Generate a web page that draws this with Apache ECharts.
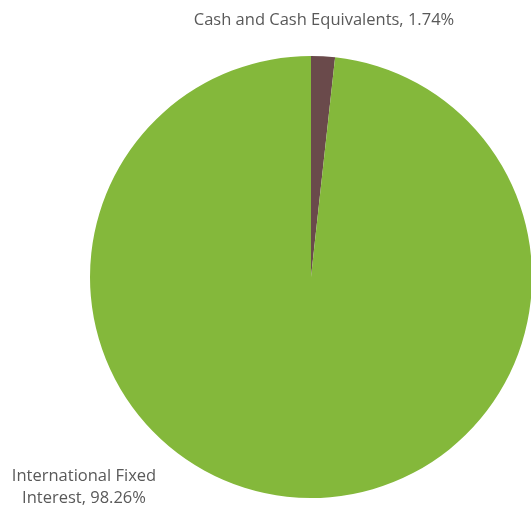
<!DOCTYPE html>
<html><head><meta charset="utf-8">
<script src="https://cdn.jsdelivr.net/npm/echarts@6/dist/echarts.min.js"></script>
<style>html,body{margin:0;padding:0;background:#fff}#c{width:531px;height:509px}</style>
</head><body><div id="c"></div>
<script>
const categories = ["Cash and Cash Equivalents", "International Fixed Interest"];
const labelTexts = ["Cash and Cash Equivalents, 1.74%", "International Fixed\nInterest, 98.26%"];
const values = [1.74, 98.26];
const colors = ["#6a4a4b", "#84b83b"];
const labelSpots = [[324, 20, 'center'], [84, 487, 'center']];

const chart = echarts.init(document.getElementById('c'));
chart.setOption({
  animation: false,
  series: [{
    type: 'pie',
    center: [311, 277],
    radius: 221,
    startAngle: 90,
    clockwise: true,
    data: categories.map((c, i) => ({name: c, value: values[i], itemStyle: {color: colors[i]}})),
    itemStyle: {borderWidth: 0},
    label: {
      show: true,
      formatter: p => labelTexts[p.dataIndex],
      color: '#595959',
      fontFamily: 'Open Sans, sans-serif',
      fontSize: 16.5,
      lineHeight: 22,
      align: 'center',
      overflow: 'none',
      width: 400
    },
    labelLine: {show: false},
    labelLayout: p => ({x: labelSpots[p.dataIndex][0], y: labelSpots[p.dataIndex][1], align: labelSpots[p.dataIndex][2], verticalAlign: 'middle', hideOverlap: false})
  }]
});
</script></body></html>
